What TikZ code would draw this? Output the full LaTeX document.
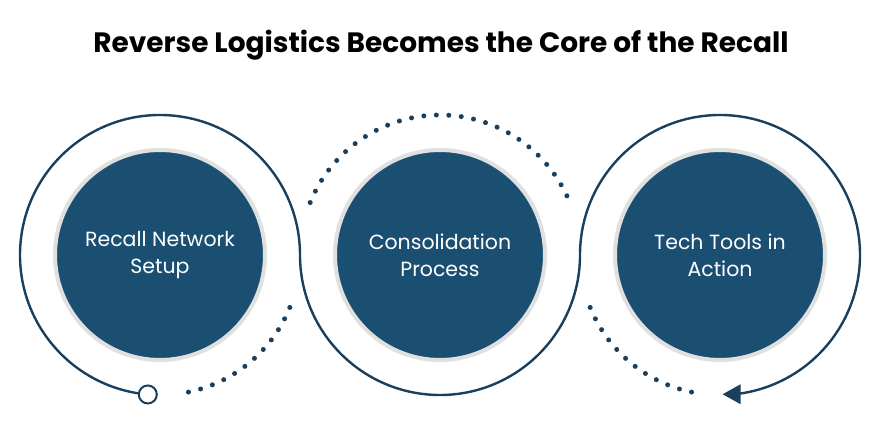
\documentclass[tikz,border=0pt]{standalone}
\usepackage{fontspec}
\setmainfont{Poppins}
\usetikzlibrary{calc}
\begin{document}
\begin{tikzpicture}[x=1pt,y=1pt,
  disc/.style={circle,fill=navy,draw=black!12,line width=4pt,minimum size=210,inner sep=0pt,text=white,align=center,font=\fontsize{20.5}{27}\selectfont},
  solid/.style={draw=line,line width=2.4pt},
  dots/.style={draw=line,line width=5pt,line cap=round,dash pattern=on 0pt off 12.5pt}]
\definecolor{navy}{HTML}{1B4F72}
\definecolor{line}{HTML}{1A3F5C}
\useasboundingbox (0,0) rectangle (882,428);
\node[font=\bfseries\fontsize{28}{32}\selectfont] (title) at (441,383) {Reverse Logistics Becomes the Core of the Recall};
\node[disc] (a) at (160,173) {Recall Network\\Setup};
\node[disc] (b) at (440,173) {Consolidation\\Process};
\node[disc] (c) at (720,173) {Tech Tools in\\Action};
\coordinate (s) at ($(a.center)+(265:140)$);
\draw[solid] (s) arc[start angle=265,end angle=0,radius=140]
  arc[start angle=180,end angle=360,radius=140]
  arc[start angle=180,end angle=-84,radius=140];
\coordinate (e) at ($(c.center)+(-84:140)$);
\fill[line] (e) ++(-12,0) -- ++(18,10) -- ++(0,-20) -- cycle;
\draw[line,line width=2pt,fill=white] (s) circle[radius=9];
\draw[dots] ($(a.center)+(-22:140)$) arc[start angle=-22,end angle=-80,radius=140];
\draw[dots] ($(b.center)+(158:140)$) arc[start angle=158,end angle=22,radius=140];
\draw[dots] ($(c.center)+(202:140)$) arc[start angle=202,end angle=262,radius=140];
\end{tikzpicture}
\end{document}
